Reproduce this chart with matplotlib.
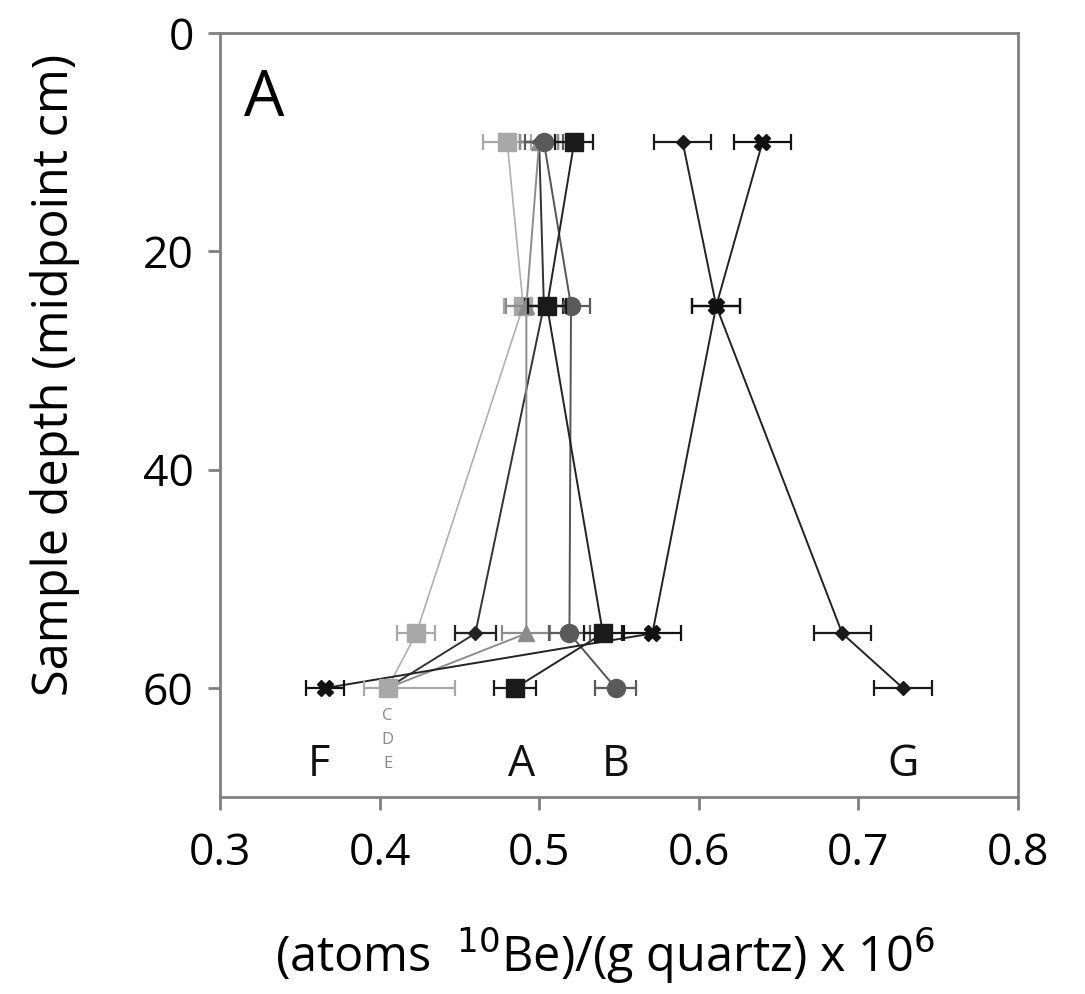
import matplotlib
matplotlib.use("Agg")
import matplotlib.pyplot as plt

plt.rcParams['font.family'] = ['Open Sans', 'DejaVu Sans']

depths = [10, 25, 55, 60]

# profile values (atoms 10Be / g quartz x 1e6)
prof_C = [0.480, 0.490, 0.423, 0.405]
prof_D = [0.500, 0.503, 0.460, 0.405]
prof_E = [0.500, 0.492, 0.492, 0.405]
prof_A = [0.522, 0.505, 0.540, 0.485]
prof_B = [0.503, 0.520, 0.519, 0.548]
prof_F = [0.640, 0.611, 0.571, 0.366]
prof_G = [0.590, 0.611, 0.690, 0.728]

# lower / upper uncertainties
err_C = [[0.015, 0.012, 0.012, 0.015], [0.015, 0.012, 0.012, 0.042]]
err_D = [[0.012, 0.012, 0.013, 0.015], [0.012, 0.012, 0.013, 0.015]]
err_E = [[0.012, 0.013, 0.015, 0.015], [0.012, 0.013, 0.015, 0.015]]
err_A = [[0.012, 0.012, 0.012, 0.013], [0.012, 0.012, 0.012, 0.013]]
err_B = [[0.012, 0.012, 0.013, 0.013], [0.012, 0.012, 0.013, 0.013]]
err_F = [[0.018, 0.015, 0.018, 0.012], [0.018, 0.015, 0.018, 0.012]]
err_G = [[0.018, 0.015, 0.018, 0.018], [0.018, 0.015, 0.018, 0.018]]

profile_labels = ['F', 'A', 'B', 'G']
profile_label_x = [0.362, 0.489, 0.548, 0.728]
small_labels = ['C', 'D', 'E']

fig = plt.figure(figsize=(10.85, 9.94), dpi=100)
ax = fig.add_axes([0.2028, 0.198, 0.7352, 0.7688])

# (values, errors, marker, marker colour, line colour, size, lw, zorder, n points with own marker)
styles = [
    (prof_C, err_C, 's', '#a8a8a8', '#b0b0b0', 13, 1.2, 3, 4),
    (prof_D, err_D, 'D', '#222222', '#333333', 7, 1.4, 3.2, 3),
    (prof_E, err_E, '^', '#8c8c8c', '#8c8c8c', 11, 1.4, 3.4, 3),
    (prof_B, err_B, 'o', '#5a5a5a', '#555555', 13, 1.4, 4, 4),
    (prof_A, err_A, 's', '#1a1a1a', '#222222', 13, 1.4, 5, 4),
    (prof_G, err_G, 'D', '#1a1a1a', '#222222', 7, 1.4, 4, 4),
    (prof_F, err_F, 'X', '#111111', '#222222', 11, 1.4, 4.5, 4),
]
for vals, errs, mk, mc, lc, ms, lw, z, n in styles:
    ax.plot(vals, depths, '-', color=lc, lw=lw, zorder=2)
    ax.errorbar(vals[:n], depths[:n], xerr=[errs[0][:n], errs[1][:n]], fmt=mk,
                color=mc, ecolor=mc, elinewidth=1.6, capsize=6, capthick=1.6,
                ms=ms, mec=mc, mfc=mc, zorder=z)

ax.set_xlim(0.3, 0.8)
ax.set_ylim(70, 0)
ax.set_xticks([0.3, 0.4, 0.5, 0.6, 0.7, 0.8])
ax.set_yticks([0, 20, 40, 60])
for sp in ax.spines.values():
    sp.set_color('#808080')
    sp.set_linewidth(2)
ax.tick_params(axis='both', direction='out', length=9, width=2, color='#808080',
               labelsize=32)
ax.tick_params(axis='x', pad=16)
ax.tick_params(axis='y', pad=10)
ax.set_xlabel('(atoms  $^{10}$Be)/(g quartz) x 10$^{6}$', fontsize=35)
ax.xaxis.set_label_coords(0.482, -0.168)
ax.set_ylabel('Sample depth (midpoint cm)', fontsize=35)
ax.yaxis.set_label_coords(-0.175, 0.552)

ax.text(0.03, 0.955, 'A', transform=ax.transAxes, fontsize=46, va='top', ha='left')

for lab, xv in zip(profile_labels, profile_label_x):
    ax.text(xv, 67.0, lab, fontsize=31, ha='center', va='center', color='#111111')
for i, lab in enumerate(small_labels):
    ax.text(0.405, 62.6 + i * 2.2, lab, fontsize=12, ha='center', va='center', color='#888888')

fig.savefig('out.png', dpi=100, facecolor='white')
